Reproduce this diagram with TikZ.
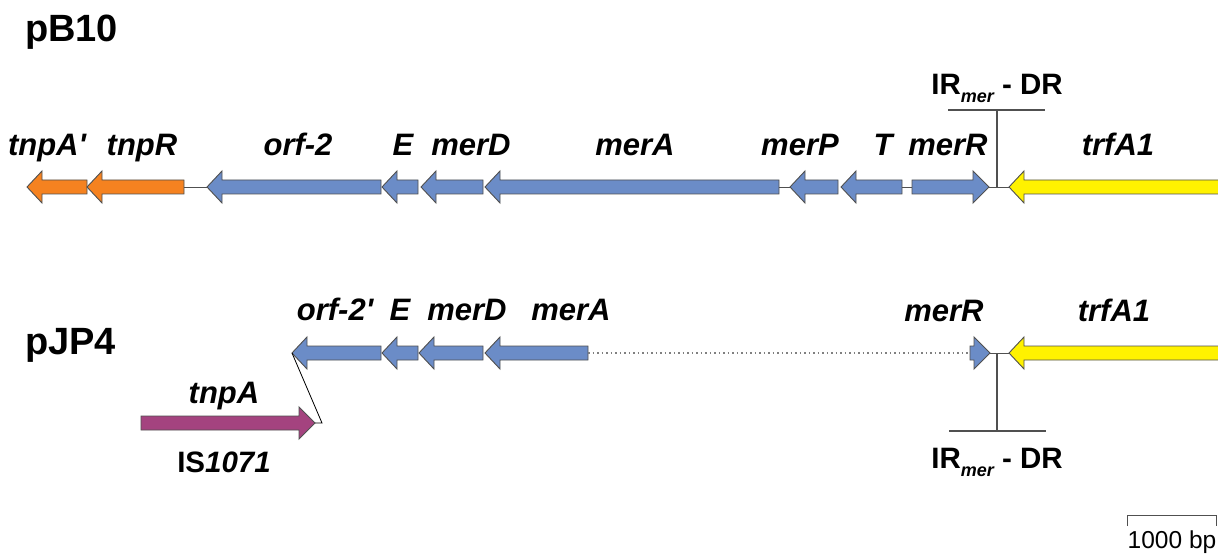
\documentclass[tikz,border=0pt]{standalone}
\usepackage{fontspec}
\setmainfont{Liberation Sans}
\definecolor{gorange}{HTML}{F58220}
\definecolor{gblue}{HTML}{6B8CC7}
\definecolor{gyellow}{HTML}{FFF200}
\definecolor{gpurple}{HTML}{A4437F}
\definecolor{lgray}{HTML}{505050}
\tikzset{
  genebox/.style={draw=lgray, line width=0.9pt, line join=miter},
  glabel/.style={anchor=base, inner sep=0pt, font=\fontsize{31}{33}\selectfont\bfseries\itshape},
  plabel/.style={anchor=base west, inner sep=0pt, font=\fontsize{38}{42}\selectfont\bfseries},
  irlabel/.style={anchor=base, inner sep=0pt, font=\fontsize{29.5}{31}\selectfont\bfseries},
  link/.style={draw=lgray, line width=0.9pt},
  irline/.style={draw=lgray, line width=1.4pt},
}
% left-pointing gene: tip x, right end x, centre y, colour, name
\newcommand{\geneL}[5]{%
  \filldraw[genebox, fill=#4] (#1,#3) -- (#1+15,#3-16) -- (#1+15,#3-7) -- (#2,#3-7) -- (#2,#3+7) -- (#1+15,#3+7) -- (#1+15,#3+16) -- cycle;
  \coordinate (#5-tip) at (#1,#3);
  \coordinate (#5-end) at (#2,#3);}
% right-pointing gene: left end x, tip x, centre y, colour, name
\newcommand{\geneR}[5]{%
  \filldraw[genebox, fill=#4] (#2,#3) -- (#2-16,#3-16) -- (#2-16,#3-7) -- (#1,#3-7) -- (#1,#3+7) -- (#2-16,#3+7) -- (#2-16,#3+16) -- cycle;
  \coordinate (#5-tip) at (#2,#3);
  \coordinate (#5-end) at (#1,#3);}
\begin{document}
\begin{tikzpicture}[x=1pt,y=-1pt]
\useasboundingbox (0,0) rectangle (1218,556);
% titles
\node[plabel] (tB10) at (25,42) {pB10};
\node[plabel] (tJP4) at (25,354) {pJP4};

% ---------- pB10 ----------
\geneL{27}{87}{187}{gorange}{a1}
\geneL{87}{184}{187}{gorange}{a2}
\geneL{207}{381}{187}{gblue}{a3}
\geneL{382}{418}{187}{gblue}{a4}
\geneL{421}{483}{187}{gblue}{a5}
\geneL{485}{779}{187}{gblue}{a6}
\geneL{790}{838}{187}{gblue}{a7}
\geneL{841}{902}{187}{gblue}{a8}
\geneR{912}{989}{187}{gblue}{a9}
\geneL{1009}{1222}{187}{gyellow}{a10}
\draw[link] (a2-end) -- (a3-tip);
\draw[link] (a6-end) -- (a7-tip);
\draw[link] (a8-end) -- (a9-end);
\draw[link] (a9-tip) -- (a10-tip);
\coordinate (ir1) at (997,187);
\coordinate (ir1top) at (997,110);
\coordinate (ir1l) at (948,110);
\coordinate (ir1r) at (1045,110);
\draw[irline] (ir1) -- (ir1top);
\draw[irline] (ir1l) -- (ir1r);

\node[glabel] (l1) at (47,156) {tnpA\textquotesingle};
\node[glabel] (l2) at (142,156) {tnpR};
\node[glabel] (l3) at (298,156) {orf-2};
\node[glabel] (l4) at (403,156) {E};
\node[glabel] (l5) at (471,156) {merD};
\node[glabel] (l6) at (635,156) {merA};
\node[glabel] (l7) at (800,156) {merP};
\node[glabel] (l8) at (883,156) {T};
\node[glabel] (l9) at (948,156) {merR};
\node[glabel] (l10) at (1118,156) {trfA1};
\node[irlabel] (ir1t) at (997,95) {IR\raisebox{-8pt}{\fontsize{18}{19}\selectfont\itshape mer} - DR};

% ---------- pJP4 ----------
\geneL{292}{381}{353}{gblue}{b1}
\geneL{382}{418}{353}{gblue}{b2}
\geneL{419}{483}{353}{gblue}{b3}
\geneL{485}{588}{353}{gblue}{b4}
\filldraw[genebox, fill=gblue] (990,353) -- (974,337) -- (974,346) -- (970,346) -- (970,360) -- (974,360) -- (974,369) -- cycle;
\coordinate (b5-tip) at (990,353);
\coordinate (b5-end) at (970,353);
\geneL{1009}{1222}{353}{gyellow}{b6}
\draw[draw=gray, line width=1.3pt, dash pattern=on 1.5pt off 3pt] (b4-end) -- (b5-end);
\draw[link] (b5-tip) -- (b6-tip);
\coordinate (ir2) at (997,353);
\coordinate (ir2bot) at (997,431);
\coordinate (ir2l) at (949,431);
\coordinate (ir2r) at (1046,431);
\draw[irline] (ir2) -- (ir2bot);
\draw[irline] (ir2l) -- (ir2r);

\geneR{141}{315}{423}{gpurple}{c1}
\coordinate (kink) at (322,423);
\draw[black, line width=0.8pt] (c1-tip) -- (kink) -- (b1-tip);

\node[glabel] (m1) at (335,320) {orf-2\textquotesingle};
\node[glabel] (m2) at (400,320) {E};
\node[glabel] (m3) at (467,320) {merD};
\node[glabel] (m4) at (571,320) {merA};
\node[glabel] (m5) at (944,321) {merR};
\node[glabel] (m6) at (1114,321) {trfA1};
\node[glabel] (m7) at (224,403) {tnpA};
\node[irlabel] (is) at (224,472) {IS\textit{1071}};
\node[irlabel] (ir2t) at (997,468) {IR\raisebox{-8pt}{\fontsize{18}{19}\selectfont\itshape mer} - DR};

% scale bar
\coordinate (sb1) at (1127,515);
\coordinate (sb2) at (1216.5,515);
\draw[lgray, line width=1pt] ([yshift=-11pt]sb1) -- (sb1) -- (sb2) -- ([yshift=-11pt]sb2);
\node[anchor=base, inner sep=0pt, font=\fontsize{24.5}{26}\selectfont] (sbt) at (1172,548) {1000 bp};
\end{tikzpicture}
\end{document}
